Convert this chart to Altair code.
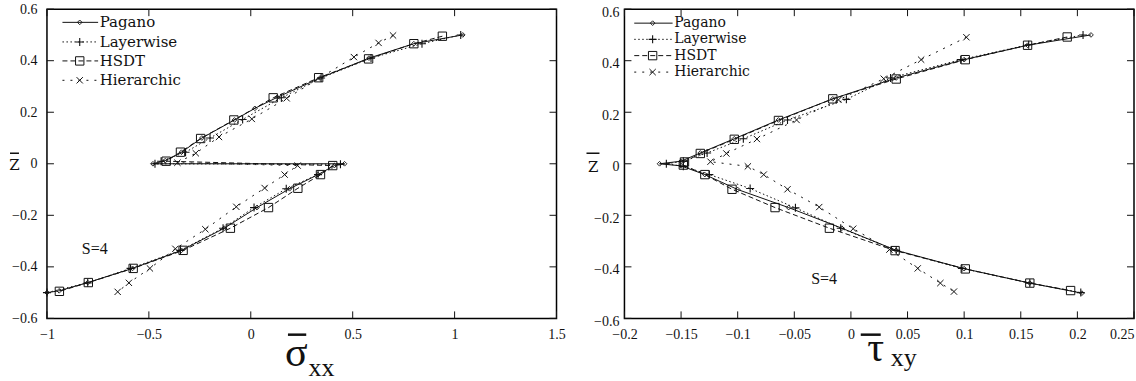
import altair as alt
import pandas as pd

# ---------------- data ----------------
# Left panel: sigma_xx through the thickness (z)
SXX_PAGANO_X = [1.04, 0.80, 0.58, 0.34, 0.13, 0.02, -0.08, -0.24, -0.34, -0.42, -0.48,
                0.46, 0.41, 0.33, 0.19, 0.03, -0.13, -0.34, -0.58, -0.80, -0.94, -1.00]
SXX_PAGANO_Z = [0.50, 0.466, 0.41, 0.333, 0.258, 0.215, 0.17, 0.10, 0.045, 0.012, 0.0,
                0.0, -0.007, -0.042, -0.097, -0.17, -0.25, -0.336, -0.406, -0.461, -0.493, -0.50]
SXX_LAYER_X = [1.03, 0.84, 0.59, 0.345, 0.15, -0.04, -0.20, -0.32, -0.44, -0.47,
               0.44, 0.33, 0.174, 0.016, -0.136, -0.345, -0.59, -0.80, -1.00]
SXX_LAYER_Z = [0.50, 0.466, 0.41, 0.333, 0.256, 0.172, 0.10, 0.045, 0.01, 0.0,
               -0.002, -0.042, -0.097, -0.17, -0.25, -0.336, -0.406, -0.462, -0.50]
SXX_HSDT_X = [0.94, 0.80, 0.578, 0.333, 0.11, -0.083, -0.246, -0.345, -0.415,
              0.402, 0.342, 0.231, 0.087, -0.10, -0.332, -0.577, -0.797, -0.939]
SXX_HSDT_Z = [0.495, 0.466, 0.407, 0.334, 0.256, 0.17, 0.098, 0.045, 0.01,
              -0.007, -0.042, -0.095, -0.17, -0.25, -0.336, -0.406, -0.461, -0.495]
SXX_HIER_X = [0.698, 0.627, 0.506, 0.176, 0.005, -0.156, -0.27, -0.36,
              0.23, 0.166, 0.068, -0.071, -0.223, -0.37, -0.495, -0.598, -0.653]
SXX_HIER_Z = [0.498, 0.469, 0.414, 0.254, 0.174, 0.104, 0.041, 0.004,
              -0.007, -0.042, -0.094, -0.167, -0.254, -0.33, -0.406, -0.462, -0.497]

# Right panel: tau_xy through the thickness (z)
TXY_PAGANO_X = [0.212, 0.156, 0.100, 0.040, -0.016, -0.064, -0.103, -0.133, -0.150, -0.169,
                -0.150, -0.129, -0.100, -0.055, -0.008, 0.040, 0.100, 0.158, 0.204]
TXY_PAGANO_Z = [0.50, 0.46, 0.404, 0.333, 0.252, 0.17, 0.097, 0.042, 0.01, 0.0,
                -0.008, -0.042, -0.10, -0.17, -0.25, -0.336, -0.407, -0.463, -0.502]
TXY_LAYER_X = [0.205, 0.157, 0.097, 0.035, -0.004, -0.056, -0.095, -0.127, -0.148, -0.163,
               -0.148, -0.125, -0.089, -0.049, -0.009, 0.040, 0.098, 0.158, 0.203]
TXY_LAYER_Z = [0.50, 0.462, 0.404, 0.333, 0.25, 0.17, 0.097, 0.042, 0.01, 0.0,
               -0.01, -0.042, -0.096, -0.171, -0.25, -0.336, -0.406, -0.463, -0.50]
TXY_HSDT_X = [0.191, 0.156, 0.101, 0.040, -0.016, -0.064, -0.103, -0.133, -0.147,
              -0.148, -0.129, -0.105, -0.067, -0.019, 0.039, 0.101, 0.158, 0.194]
TXY_HSDT_Z = [0.492, 0.46, 0.404, 0.329, 0.252, 0.168, 0.095, 0.04, 0.007,
              -0.005, -0.042, -0.099, -0.17, -0.25, -0.337, -0.408, -0.463, -0.492]
TXY_HIER_X = [0.102, 0.062, 0.029, -0.011, -0.048, -0.083, -0.110, -0.124,
              -0.091, -0.077, -0.056, -0.028, 0.002, 0.034, 0.059, 0.079, 0.091]
TXY_HIER_Z = [0.491, 0.404, 0.33, 0.248, 0.17, 0.096, 0.04, 0.008,
              -0.01, -0.042, -0.099, -0.168, -0.252, -0.333, -0.406, -0.463, -0.496]

Y_TICKS = [-0.6, -0.4, -0.2, 0, 0.2, 0.4, 0.6]
SXX_TICKS = [-1, -0.5, 0, 0.5, 1, 1.5]
TXY_TICKS = [-0.2, -0.15, -0.1, -0.05, 0, 0.05, 0.1, 0.15, 0.2, 0.25]
LEGEND_LABELS = ["Pagano", "Layerwise", "HSDT", "Hierarchic"]
ANNOTATION = "S=4"

# ---------------- styling ----------------
W, H = 510, 309.5
FONT = "Liberation Serif, Times New Roman, Times, serif"
LFONT = "DejaVu Serif, serif"
INK = "#111111"
PLUS = "M-1,0L1,0M0,-1L0,1"
XMARK = "M-1,-1L1,1M-1,1L1,-1"
STYLES = {
    "Pagano": dict(dash=None, shape="diamond", size=22, sw=0.9),
    "Layerwise": dict(dash=[1.5, 2.5], shape=PLUS, size=64, sw=1.1),
    "HSDT": dict(dash=[5, 3], shape="square", size=70, sw=1.0),
    "Hierarchic": dict(dash=[2, 6], shape=XMARK, size=40, sw=1.0),
}
ONE = alt.Data(values=[{"a": 1}])


def txt(s, x, y, font, size, align="center", baseline="alphabetic"):
    return alt.Chart(ONE).mark_text(
        text=s, font=font, fontSize=size, align=align, baseline=baseline, color=INK
    ).encode(x=alt.value(x), y=alt.value(y))


def hbar(x1, x2, y, sw, dash=None, opacity=1):
    kw = dict(color=INK, strokeWidth=sw, opacity=opacity)
    if dash:
        kw["strokeDash"] = dash
    return alt.Chart(ONE).mark_rule(**kw).encode(
        x=alt.value(x1), x2=alt.value(x2), y=alt.value(y)
    )


def panel(series, xdom, xticks, ylab_pad, ylab_off, last_label, legend, sann, titles, anchor):
    xsc = alt.Scale(domain=xdom, nice=False, zero=False)
    ysc = alt.Scale(domain=[-0.6, 0.6], nice=False, zero=False)
    xax = alt.Axis(values=xticks, format="~g", title=None, labelPadding=9,
                   labelFont=FONT, labelFontSize=14, labelColor=INK,
                   domain=False, ticks=False, grid=False,
                   labelAlign={"condition": {"test": f"datum.value >= {last_label}", "value": "right"},
                               "value": "center"})
    yax = alt.Axis(values=Y_TICKS, format="~g", title=None, labelPadding=ylab_pad,
                   labelFont=FONT, labelFontSize=14, labelColor=INK,
                   domain=False, ticks=False, grid=False, labelOffset=ylab_off)

    def X(f):
        return alt.X(f"{f}:Q", scale=xsc, axis=xax)

    def Y(f):
        return alt.Y(f"{f}:Q", scale=ysc, axis=yax)

    layers = []
    # ticks pointing inward on all four sides
    tx = pd.DataFrame({"v": xticks})
    ty = pd.DataFrame({"v": Y_TICKS})
    layers.append(alt.Chart(tx).mark_rule(color=INK, strokeWidth=1).encode(
        x=X("v"), y=alt.value(H), y2=alt.value(H - 7)))
    layers.append(alt.Chart(tx).mark_rule(color=INK, strokeWidth=1).encode(
        x=X("v"), y=alt.value(0), y2=alt.value(7)))
    layers.append(alt.Chart(ty).mark_rule(color=INK, strokeWidth=1).encode(
        y=Y("v"), x=alt.value(0), x2=alt.value(7)))
    layers.append(alt.Chart(ty).mark_rule(color=INK, strokeWidth=1).encode(
        y=Y("v"), x=alt.value(W - 7), x2=alt.value(W)))

    for name, (xs, zs) in series.items():
        st = STYLES[name]
        df = pd.DataFrame({"x": xs, "z": zs, "o": list(range(len(xs)))})
        lkw = dict(color=INK, strokeWidth=1)
        if st["dash"]:
            lkw["strokeDash"] = st["dash"]
        layers.append(alt.Chart(df).mark_line(**lkw).encode(
            x=X("x"), y=Y("z"), order=alt.Order("o:Q")))
        layers.append(alt.Chart(df).mark_point(
            shape=st["shape"], size=st["size"], filled=False, color=INK,
            strokeWidth=st["sw"], opacity=1).encode(x=X("x"), y=Y("z")))

    # legend
    rows, lx0, lx1, lm, lt, lfs = legend
    for name, ry in zip(LEGEND_LABELS, rows):
        st = STYLES[name]
        layers.append(hbar(lx0, lx1, ry, 1, st["dash"]))
        layers.append(alt.Chart(ONE).mark_point(
            shape=st["shape"], size=st["size"], filled=False, color=INK,
            strokeWidth=st["sw"], opacity=1).encode(x=alt.value(lm), y=alt.value(ry)))
        layers.append(txt(name, lt, ry, LFONT, lfs, align="left", baseline="middle"))

    # annotation
    layers.append(txt(ANNOTATION, sann[0], sann[1], FONT, 16, baseline="middle"))

    # axis titles
    (zx, zy, zb0, zb1, zby), (sym, sx, sy, sub, subx, suby, b0, b1, by) = titles
    layers.append(txt("Z", zx, zy, LFONT, 15))
    layers.append(hbar(zb0, zb1, zby, 1.5))
    layers.append(txt(sym, sx, sy, FONT, 42))
    layers.append(txt(sub, subx, suby, FONT, 26, align="left"))
    layers.append(hbar(b0, b1, by, 2.5))

    if anchor:
        layers.append(hbar(-45.5, 0, -7.5, 0.1, opacity=0))

    return alt.layer(*layers).properties(width=W, height=H)


left = panel(
    {"Pagano": (SXX_PAGANO_X, SXX_PAGANO_Z), "Layerwise": (SXX_LAYER_X, SXX_LAYER_Z),
     "HSDT": (SXX_HSDT_X, SXX_HSDT_Z), "Hierarchic": (SXX_HIER_X, SXX_HIER_Z)},
    [-1, 1.5], SXX_TICKS, 10, 0, 9,
    ([13.2, 32.8, 51.8, 71.2], 15.5, 51.2, 32.8, 52.8, 15),
    (47.8, 240),
    ((-32.5, 160.8, -37, -28, 144.2),
     ("σ", 249.5, 357.5, "xx", 261.8, 367, 241.2, 259.5, 325.8)),
    True,
)
right = panel(
    {"Pagano": (TXY_PAGANO_X, TXY_PAGANO_Z), "Layerwise": (TXY_LAYER_X, TXY_LAYER_Z),
     "HSDT": (TXY_HSDT_X, TXY_HSDT_Z), "Hierarchic": (TXY_HIER_X, TXY_HIER_Z)},
    [-0.2, 0.25], TXY_TICKS, 5.5, 3, 0.249,
    ([14, 30.2, 46.5, 63], 9.8, 48.2, 28.2, 49.8, 14),
    (199.8, 270),
    ((-31.2, 163.2, -38, -25, 144.2),
     ("τ", 251.5, 352.5, "xy", 266.5, 357.5, 236.5, 256.5, 325.8)),
    False,
)

chart = alt.hconcat(left, right, spacing=68, bounds="flush").properties(
    padding=0, background="white"
).configure_view(stroke="black", strokeWidth=1.5)

chart.save("out.html", embed_options={"renderer": "svg", "actions": False})
